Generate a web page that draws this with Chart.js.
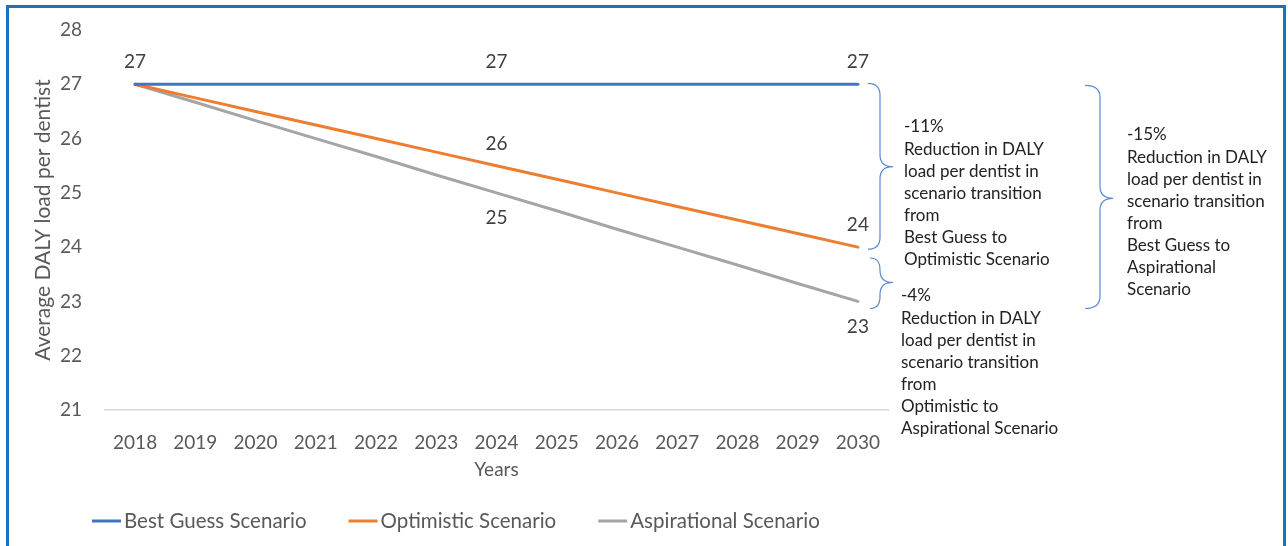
<!DOCTYPE html>
<html>
<head>
<meta charset="utf-8">
<script src="https://cdn.jsdelivr.net/npm/chart.js@4.4.0/dist/chart.umd.min.js"></script>
<style>
  html, body { margin: 0; padding: 0; background: #fff; overflow: hidden; }
  #wrap { position: relative; width: 1288px; height: 546px; }
  #frame { position: absolute; left: 6px; top: 5px; width: 1280px; height: 600px;
           border: 3px solid #1a72c6; box-sizing: border-box; pointer-events: none; }
</style>
</head>
<body>
<div id="wrap">
  <canvas id="chart" width="1288" height="546"></canvas>
  <div id="frame"></div>
</div>
<script>
// values
const years = ['2018', '2019', '2020', '2021', '2022', '2023', '2024', '2025', '2026', '2027', '2028', '2029', '2030'];
const bestGuess = [27, 27, 27, 27, 27, 27, 27, 27, 27, 27, 27, 27, 27];
const optimistic = [27, 26.75, 26.5, 26.25, 26, 25.75, 25.5, 25.25, 25, 24.75, 24.5, 24.25, 24];
const aspirational = [27, 26.67, 26.33, 26, 25.67, 25.33, 25, 24.67, 24.33, 24, 23.67, 23.33, 23];
const seriesNames = ['Best Guess Scenario', 'Optimistic Scenario', 'Aspirational Scenario'];
const yMin = 21, yMax = 28;

const note1 = ['-11%', 'Reduction in DALY', 'load per dentist in', 'scenario transition', 'from', 'Best Guess to', 'Optimistic Scenario'];
const note2 = ['-4%', 'Reduction in DALY', 'load per dentist in', 'scenario transition', 'from', 'Optimistic to', 'Aspirational Scenario'];
const note3 = ['-15%', 'Reduction in DALY', 'load per dentist in', 'scenario transition', 'from', 'Best Guess to', 'Aspirational', 'Scenario'];

const FONT = 'Lato, "Open Sans", sans-serif';

// which points get a value label, and on which side
const pointLabels = [
    { ds: 0, idx: [0, 6, 12], dy: -22 },
    { ds: 1, idx: [6, 12], dy: -22 },
    { ds: 2, idx: [6, 12], dy: 25 }
];

function brace(ctx, xHook, xSpine, xTip, top, bottom, mid) {
    const r = 12;
    ctx.beginPath();
    ctx.moveTo(xHook, top);
    ctx.quadraticCurveTo(xSpine, top, xSpine, top + r);
    ctx.lineTo(xSpine, mid - r);
    ctx.quadraticCurveTo(xSpine, mid, xTip, mid);
    ctx.quadraticCurveTo(xSpine, mid, xSpine, mid + r);
    ctx.lineTo(xSpine, bottom - r);
    ctx.quadraticCurveTo(xSpine, bottom, xHook, bottom);
    ctx.stroke();
}

function textBlock(ctx, lines, x, y) {
    lines.forEach(function(t, i) {
        ctx.fillText(t, x, y + i * 22.1);
    });
}

const extras = {
    id: 'extras',
    afterDraw(chart) {
        const ctx = chart.ctx;
        const yS = chart.scales.y;
        const area = chart.chartArea;
        ctx.save();

        // value labels
        ctx.font = '19px ' + FONT;
        ctx.fillStyle = '#404040';
        ctx.textAlign = 'center';
        ctx.textBaseline = 'middle';
        pointLabels.forEach(function(pl) {
            const meta = chart.getDatasetMeta(pl.ds);
            const vals = chart.data.datasets[pl.ds].data;
            pl.idx.forEach(function(i) {
                const p = meta.data[i];
                ctx.fillText(String(Math.round(vals[i])), p.x, p.y + pl.dy);
            });
        });

        // braces
        ctx.strokeStyle = '#5a8ad4';
        ctx.lineWidth = 1.2;
        const x0 = area.right - 20;
        brace(ctx, x0, x0 + 12, x0 + 25, yS.getPixelForValue(27) - 1, yS.getPixelForValue(24) + 2, yS.getPixelForValue(25.5) + 1);
        brace(ctx, x0 + 2, x0 + 12, x0 + 25, yS.getPixelForValue(23.8), yS.getPixelForValue(22.87), yS.getPixelForValue(23.35));
        const x1 = area.right + 197;
        brace(ctx, x1, x1 + 15, x1 + 28, yS.getPixelForValue(27) + 1, yS.getPixelForValue(22.87), yS.getPixelForValue(24.9));

        // notes
        ctx.font = '17px ' + FONT;
        ctx.fillStyle = '#222222';
        ctx.textAlign = 'left';
        textBlock(ctx, note1, area.right + 16, 127);
        textBlock(ctx, note2, area.right + 13, 296);
        textBlock(ctx, note3, area.right + 239, 135);

        // legend
        ctx.font = '20.5px ' + FONT;
        ctx.textBaseline = 'middle';
        let lx = 92;
        const ly = 521;
        chart.data.datasets.forEach(function(ds) {
            ctx.strokeStyle = ds.borderColor;
            ctx.lineWidth = 3;
            ctx.beginPath();
            ctx.moveTo(lx, ly);
            ctx.lineTo(lx + 29, ly);
            ctx.stroke();
            ctx.fillStyle = '#595959';
            ctx.fillText(ds.label, lx + 32, ly);
            lx += 32 + ctx.measureText(ds.label).width + 42;
        });
        ctx.restore();
    }
};

const ctx = document.getElementById('chart').getContext('2d');
const chart = new Chart(ctx, {
    type: 'line',
    data: {
        labels: years,
        datasets: [
            { label: seriesNames[0], data: bestGuess, borderColor: '#4472c4' },
            { label: seriesNames[1], data: optimistic, borderColor: '#ed7d31' },
            { label: seriesNames[2], data: aspirational, borderColor: '#a5a5a5' }
        ]
    },
    options: {
        responsive: false,
        animation: false,
        layout: { padding: { left: 0, top: 30, right: 400, bottom: 56 } },
        elements: {
            line: { borderWidth: 3, tension: 0, borderCapStyle: 'round' },
            point: { radius: 0, hoverRadius: 0 }
        },
        scales: {
            x: {
                offset: true,
                grid: { display: false, drawTicks: false },
                border: { display: true, color: '#d9d9d9', width: 1.5 },
                ticks: { color: '#595959', font: { family: FONT, size: 19 }, padding: 21, maxRotation: 0, autoSkip: false },
                title: { display: true, text: 'Years', color: '#595959', font: { family: FONT, size: 19 }, padding: { bottom: 9 } },
                afterFit: function(s) { s.height = 80; }
            },
            y: {
                min: yMin,
                max: yMax,
                grid: { display: false, drawTicks: false },
                border: { display: false },
                ticks: { stepSize: 1, color: '#595959', font: { family: FONT, size: 19 }, padding: 23 },
                title: { display: true, text: 'Average DALY load per dentist', color: '#595959', font: { family: FONT, size: 21 }, padding: { top: 31 } },
                afterFit: function(s) {
                    s.width = 105;
                    // tick padding would otherwise push the plot area down
                    s.paddingTop = 0;
                    s.paddingBottom = 0;
                }
            }
        },
        plugins: {
            legend: { display: false },
            tooltip: { enabled: false }
        }
    },
    plugins: [extras]
});
</script>
</body>
</html>
